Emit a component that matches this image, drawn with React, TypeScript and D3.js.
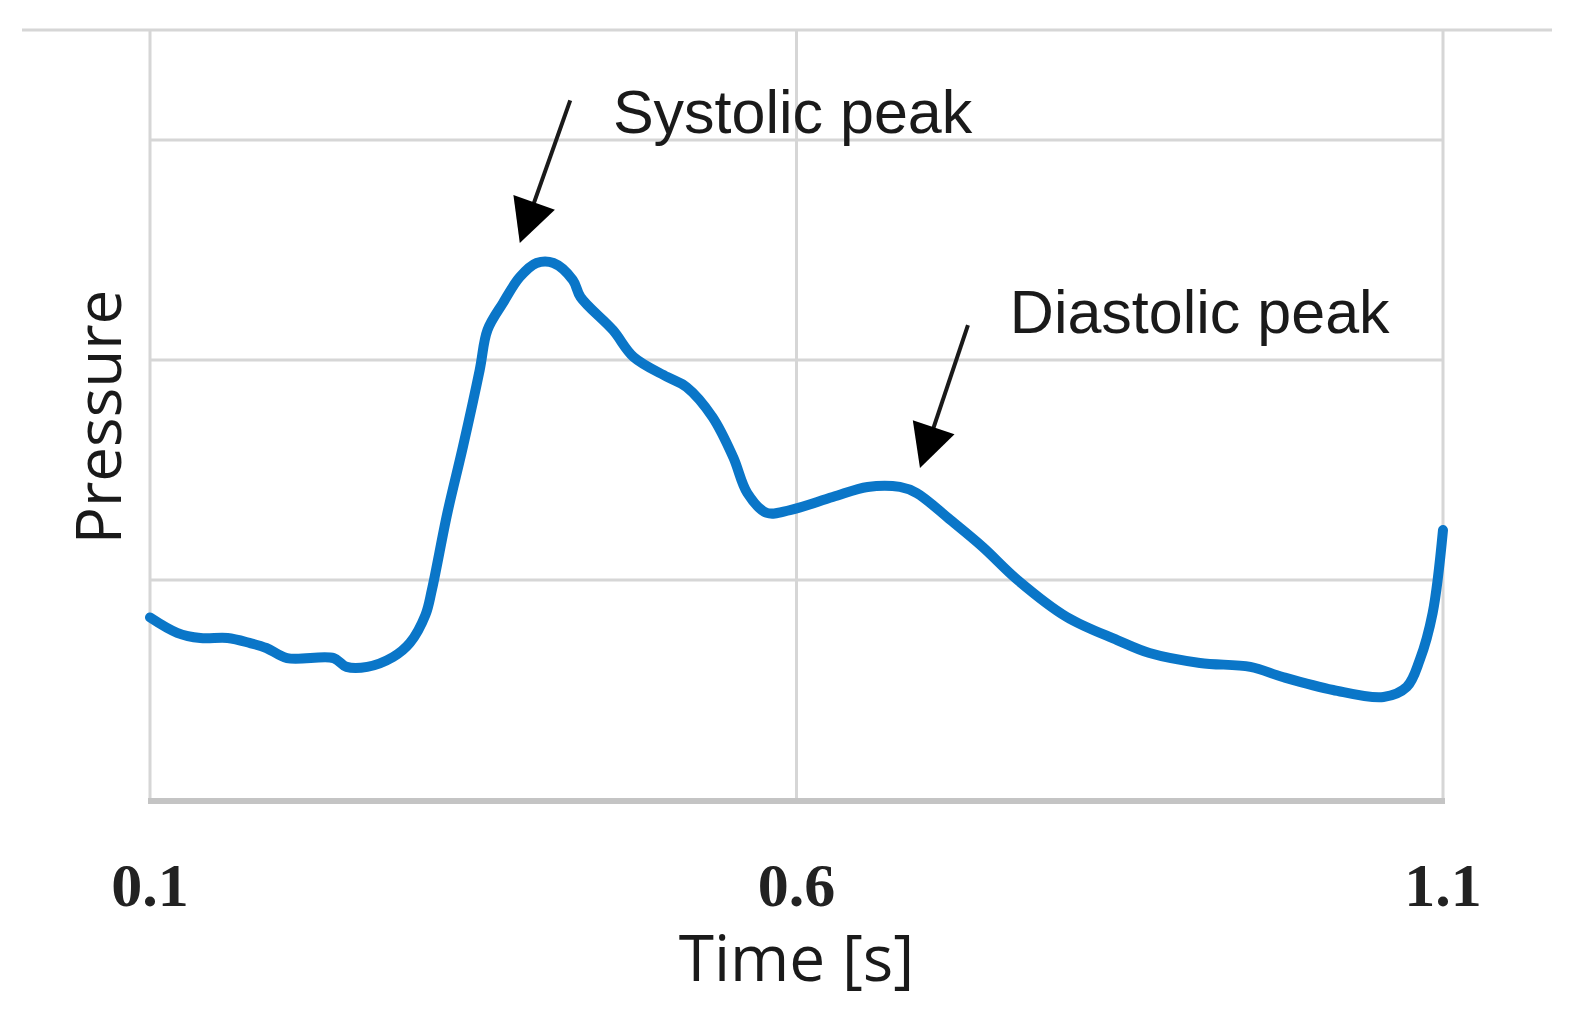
import React, { useRef, useEffect } from 'react';
import * as d3 from 'd3';

// pressure waveform
const times = [
  0.1, 0.121, 0.139, 0.16, 0.177, 0.19, 0.206, 0.242, 0.252, 0.268, 0.288, 0.301,
  0.313, 0.318, 0.33, 0.342, 0.355, 0.361, 0.373, 0.386, 0.399, 0.412, 0.427, 0.433,
  0.458, 0.474, 0.5, 0.515, 0.535, 0.551, 0.562, 0.577, 0.595, 0.628, 0.655, 0.68,
  0.693, 0.719, 0.744, 0.771, 0.809, 0.848, 0.873, 0.912, 0.951, 0.976, 1.015, 1.054,
  1.072, 1.082, 1.092, 1.1,
];
const pressure = [
  0.83, 0.76, 0.736, 0.736, 0.714, 0.691, 0.645, 0.645, 0.605, 0.605, 0.65, 0.714,
  0.841, 0.955, 1.305, 1.605, 1.955, 2.136, 2.259, 2.377, 2.441, 2.441, 2.364, 2.286,
  2.136, 2.014, 1.923, 1.877, 1.741, 1.559, 1.395, 1.305, 1.318, 1.377, 1.423, 1.423,
  1.395, 1.273, 1.15, 1.0, 0.832, 0.727, 0.668, 0.623, 0.605, 0.559, 0.5, 0.468,
  0.514, 0.636, 0.85, 1.227,
];
const xTicks = [0.1, 0.6, 1.1];
const yGrid = [1, 2, 3];
const yTop = 3.5;

const annoLabels = ['Systolic peak', 'Diastolic peak'];
const annoText = [[0.458, 3.032], [0.765, 2.123]];
const annoFrom = [[0.425, 3.18], [0.7326, 2.159]];
const annoTip = [[0.386, 2.532], [0.6955, 1.509]];

const App = () => {
  const svgRef = useRef(null);
  const width = 1574;
  const height = 1034;

  useEffect(() => {
    const svg = d3.select(svgRef.current);
    svg.selectAll('*').remove();

    const x = d3.scaleLinear().domain([0.1, 1.1]).range([150, 1443]);
    const y = d3.scaleLinear().domain([0, yTop]).range([800, 30]);

    const grid = '#d6d6d6';

    // top border, wider than the plot
    svg.append('line')
      .attr('x1', 22).attr('x2', 1552)
      .attr('y1', y(yTop)).attr('y2', y(yTop))
      .attr('stroke', grid).attr('stroke-width', 3);

    yGrid.forEach(v => {
      svg.append('line')
        .attr('x1', x(0.1)).attr('x2', x(1.1))
        .attr('y1', y(v)).attr('y2', y(v))
        .attr('stroke', grid).attr('stroke-width', 3);
    });

    xTicks.forEach(t => {
      svg.append('line')
        .attr('x1', x(t)).attr('x2', x(t))
        .attr('y1', y(yTop)).attr('y2', y(0))
        .attr('stroke', grid).attr('stroke-width', 3);

      svg.append('text')
        .attr('x', x(t))
        .attr('y', 906)
        .attr('text-anchor', 'middle')
        .attr('font-family', '"Liberation Serif", "DejaVu Serif", serif')
        .attr('font-weight', 'bold')
        .attr('font-size', 62)
        .attr('fill', '#222')
        .text(String(t));
    });

    // bottom axis
    svg.append('line')
      .attr('x1', x(0.1) - 2).attr('x2', x(1.1) + 2)
      .attr('y1', y(0) + 1).attr('y2', y(0) + 1)
      .attr('stroke', '#c4c4c4').attr('stroke-width', 6);

    // waveform
    const line = d3.line()
      .x((d, i) => x(times[i]))
      .y(d => y(d))
      .curve(d3.curveCatmullRom.alpha(0.5));

    svg.append('path')
      .datum(pressure)
      .attr('d', line)
      .attr('fill', 'none')
      .attr('stroke', '#0a76c8')
      .attr('stroke-width', 10)
      .attr('stroke-linejoin', 'round')
      .attr('stroke-linecap', 'round');

    // annotations
    annoLabels.forEach((label, i) => {
      const [fx, fy] = [x(annoFrom[i][0]), y(annoFrom[i][1])];
      const [tx, ty] = [x(annoTip[i][0]), y(annoTip[i][1])];
      const dx = tx - fx;
      const dy = ty - fy;
      const len = Math.sqrt(dx * dx + dy * dy);
      const ux = dx / len;
      const uy = dy / len;
      const headLen = 43;
      const half = 22;
      const bx = tx - ux * headLen;
      const by = ty - uy * headLen;

      svg.append('line')
        .attr('x1', fx).attr('y1', fy)
        .attr('x2', bx + ux * 4).attr('y2', by + uy * 4)
        .attr('stroke', '#1a1a1a')
        .attr('stroke-width', 4);

      svg.append('path')
        .attr('d', `M${tx},${ty} L${bx - uy * half},${by + ux * half} L${bx + uy * half},${by - ux * half} Z`)
        .attr('fill', '#000');

      svg.append('text')
        .attr('x', x(annoText[i][0]))
        .attr('y', y(annoText[i][1]))
        .attr('font-family', '"Liberation Sans", Arial, sans-serif')
        .attr('font-size', 61)
        .attr('fill', '#1a1a1a')
        .text(label);
    });

    // axis titles
    svg.append('text')
      .attr('x', x(0.6))
      .attr('y', 981)
      .attr('text-anchor', 'middle')
      .attr('font-family', '"Open Sans", sans-serif')
      .attr('font-size', 64)
      .attr('fill', '#1a1a1a')
      .text('Time [s]');

    svg.append('text')
      .attr('transform', 'translate(121, 417) rotate(-90)')
      .attr('text-anchor', 'middle')
      .attr('font-family', '"Open Sans", sans-serif')
      .attr('font-size', 62)
      .attr('fill', '#1a1a1a')
      .text('Pressure');
  }, []);

  return (
    <svg
      ref={svgRef}
      width={width}
      height={height}
      style={{ position: 'absolute', left: 0, top: 0, background: '#fff' }}
    />
  );
};

export default App;
